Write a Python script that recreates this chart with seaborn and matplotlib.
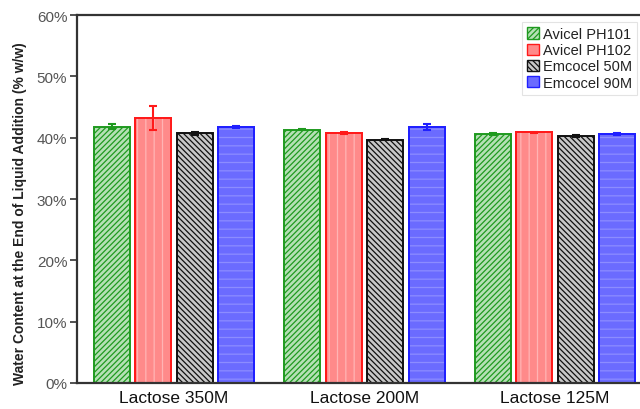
import matplotlib
matplotlib.use("Agg")
import matplotlib.pyplot as plt
from matplotlib.patches import Patch, Rectangle
from matplotlib.ticker import FuncFormatter
import seaborn as sns
import pandas as pd

groups = ['Lactose 350M', 'Lactose 200M', 'Lactose 125M']
series = ['Avicel PH101', 'Avicel PH102', 'Emcocel 50M', 'Emcocel 90M']
ph101 = [41.8, 41.3, 40.6]
ph102 = [43.2, 40.8, 40.9]
em50 = [40.7, 39.7, 40.3]
em90 = [41.8, 41.7, 40.6]
ph101_err = [0.4, 0.1, 0.1]
ph102_err = [2.0, 0.15, 0.1]
em50_err = [0.2, 0.15, 0.2]
em90_err = [0.15, 0.5, 0.2]

values = [ph101, ph102, em50, em90]
errors = [ph101_err, ph102_err, em50_err, em90_err]

edge_colors = ['#1f9a1f', '#ff1a1a', '#111111', '#2020ff']
fill_colors = ['#b5e0b5', '#ff8a8a', '#c8c8c8', '#6b6bff']
hatches = ['//////', '', '\\\\\\\\\\\\', '']
# faint overlay line textures (hatch, colour) for the plain-looking series
overlay = [None, ('||', '#ffb4b4'), None, ('--', '#8c8cff')]

rows = []
for s, vals in zip(series, values):
    for g, v in zip(groups, vals):
        rows.append({'group': g, 'series': s, 'value': v})
df = pd.DataFrame(rows)

sns.set_style('white')
plt.rcParams['font.family'] = ['Liberation Sans', 'DejaVu Sans']
plt.rcParams['hatch.linewidth'] = 0.9

fig = plt.figure(figsize=(6.4, 4.1), dpi=100)
ax = fig.add_axes([77 / 640, 1 - 384 / 410, (652 - 77) / 640, (384 - 16) / 410])

sns.barplot(data=df, x='group', y='value', hue='series', order=groups,
            hue_order=series, palette=fill_colors, width=0.87, gap=0.13,
            errorbar=None, legend=False, ax=ax)

for cont, ec, fc, h, ov, errs in zip(ax.containers, edge_colors, fill_colors,
                                      hatches, overlay, errors):
    xs, ys = [], []
    for bar in cont:
        bar.set_facecolor(fc)
        bar.set_edgecolor(ec)
        bar.set_linewidth(1.4)
        bar.set_hatch(h)
        if ov is not None:
            r = Rectangle((bar.get_x(), 0), bar.get_width(), bar.get_height(),
                          facecolor='none', edgecolor=ov[1], linewidth=0,
                          hatch=ov[0], zorder=bar.get_zorder() + 0.1)
            ax.add_patch(r)
            r2 = Rectangle((bar.get_x(), 0), bar.get_width(), bar.get_height(),
                           facecolor='none', edgecolor=ec, linewidth=1.4,
                           zorder=bar.get_zorder() + 0.2)
            ax.add_patch(r2)
        xs.append(bar.get_x() + bar.get_width() / 2)
        ys.append(bar.get_height())
    ax.errorbar(xs, ys, yerr=errs, fmt='none', ecolor=ec, elinewidth=1.5,
                capsize=3, capthick=1.5, zorder=5)

ax.set_xlim(-0.508, 2.508)
ax.set_ylim(0, 60)
ax.set_yticks([0, 10, 20, 30, 40, 50, 60])
ax.yaxis.set_major_formatter(FuncFormatter(lambda v, p: f'{v:.0f}%'))
ax.set_xlabel('')
ax.set_ylabel('Water Content at the End of Liquid Addition (% w/w)',
              fontsize=10, fontweight='bold', color='#222222')
ax.yaxis.set_label_coords(-0.087, 0.462)

for side in ['left', 'bottom', 'top']:
    ax.spines[side].set_visible(True)
    ax.spines[side].set_color('#333333')
    ax.spines[side].set_linewidth(1.6)
ax.spines['right'].set_visible(False)

ax.tick_params(axis='y', which='major', direction='out', length=5, width=1.2,
               colors='#333333', labelsize=11, labelcolor='#555555', left=True, pad=2)
ax.tick_params(axis='x', length=0, labelsize=12.5, labelcolor='#111111', pad=5)

handles = [Patch(facecolor=fc, edgecolor=ec, hatch=h, linewidth=1.0)
           for fc, ec, h in zip(fill_colors, edge_colors, hatches)]
leg = fig.legend(handles, series, loc='upper right',
                 bbox_to_anchor=(637 / 640, 1 - 23 / 410), fontsize=10.5,
                 frameon=True, fancybox=False, handlelength=0.8, handleheight=0.8,
                 handletextpad=0.25, labelspacing=0.15, borderpad=0.35,
                 borderaxespad=0.0)
leg.get_frame().set_edgecolor('#dddddd')
leg.get_frame().set_linewidth(0.8)
for t in leg.get_texts():
    t.set_color('#222222')

fig.savefig('out.png', dpi=100)
